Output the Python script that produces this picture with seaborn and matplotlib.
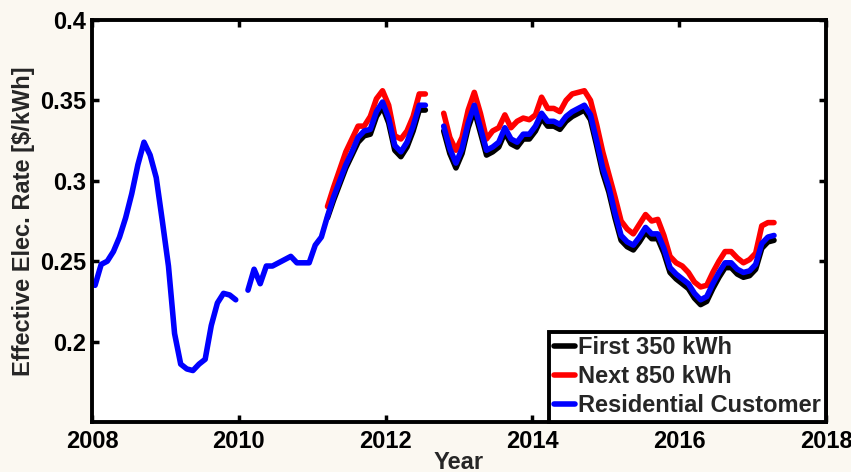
import numpy as np
import pandas as pd
import matplotlib
matplotlib.use("Agg")
import matplotlib.pyplot as plt
import seaborn as sns

# monthly samples: year = 2008 + (month_index + 0.5) / 12
month_index = list(range(112))

residential = [
    0.235, 0.248, 0.250, 0.256, 0.265, 0.277, 0.292, 0.310, 0.324, 0.316,
    0.302, 0.275, 0.247, 0.205, 0.186, 0.183, 0.182, 0.186, 0.189, 0.210,
    0.224, 0.230, 0.229, 0.226, None, 0.232, 0.245, 0.236, 0.247, 0.247,
    0.249, 0.251, 0.253, 0.249, 0.249, 0.249, 0.260, 0.265, 0.278, 0.290,
    0.300, 0.310, 0.318, 0.327, 0.331, 0.332, 0.343, 0.349, 0.339, 0.322,
    0.318, 0.324, 0.334, 0.347, 0.347, None, None, 0.334, 0.320, 0.311,
    0.320, 0.336, 0.347, 0.333, 0.319, 0.321, 0.324, 0.333, 0.326, 0.324,
    0.329, 0.329, 0.334, 0.342, 0.337, 0.337, 0.335, 0.340, 0.343, 0.345,
    0.347, 0.341, 0.325, 0.308, 0.296, 0.280, 0.266, 0.262, 0.260, 0.265,
    0.271, 0.267, 0.267, 0.258, 0.246, 0.242, 0.239, 0.236, 0.230, 0.226,
    0.228, 0.236, 0.243, 0.249, 0.249, 0.245, 0.243, 0.244, 0.248, 0.261,
    0.265, 0.266,
]

next_850 = [None] * 38 + [
    0.284, 0.296, 0.307, 0.318, 0.326, 0.334, 0.334, 0.340, 0.351, 0.356,
    0.347, 0.328, 0.326, 0.331, 0.340, 0.354, 0.354, None, None, 0.342,
    0.327, 0.319, 0.327, 0.344, 0.355, 0.342, 0.326, 0.331, 0.333, 0.341,
    0.333, 0.337, 0.339, 0.338, 0.341, 0.352, 0.345, 0.345, 0.343, 0.350,
    0.354, 0.355, 0.356, 0.350, 0.335, 0.318, 0.304, 0.290, 0.275, 0.270,
    0.267, 0.273, 0.279, 0.275, 0.276, 0.266, 0.253, 0.249, 0.247, 0.243,
    0.237, 0.234, 0.235, 0.243, 0.250, 0.256, 0.256, 0.252, 0.249, 0.251,
    0.255, 0.272, 0.274, 0.274,
]

first_350 = [None] * 38 + [
    0.277, 0.288, 0.298, 0.308, 0.316, 0.324, 0.328, 0.329, 0.340, 0.346,
    0.336, 0.319, 0.315, 0.321, 0.331, 0.344, 0.344, None, None, 0.331,
    0.317, 0.308, 0.317, 0.333, 0.344, 0.330, 0.316, 0.318, 0.321, 0.330,
    0.323, 0.321, 0.326, 0.326, 0.331, 0.339, 0.334, 0.334, 0.332, 0.337,
    0.340, 0.342, 0.344, 0.338, 0.322, 0.305, 0.293, 0.277, 0.263, 0.259,
    0.257, 0.262, 0.268, 0.264, 0.264, 0.255, 0.243, 0.239, 0.236, 0.233,
    0.227, 0.223, 0.225, 0.233, 0.240, 0.246, 0.246, 0.242, 0.240, 0.241,
    0.245, 0.258, 0.262, 0.263,
]

series_names = ["First 350 kWh", "Next 850 kWh", "Residential Customer"]
series_colors = ["#000000", "#ff0000", "#0000ff"]
x_ticks = [2008, 2010, 2012, 2014, 2016, 2018]
y_ticks = [0.2, 0.25, 0.3, 0.35, 0.4]
y_tick_labels = ["0.2", "0.25", "0.3", "0.35", "0.4"]

rows = []
for name, vals in zip(series_names, [first_350, next_850, residential]):
    seg = 0
    prev_none = True
    for m, v in zip(month_index, vals):
        if v is None:
            prev_none = True
            continue
        if prev_none:
            seg += 1
            prev_none = False
        rows.append({"year": 2008 + (m + 0.5) / 12, "rate": v,
                     "series": name, "seg": f"{name}-{seg}"})
df = pd.DataFrame(rows)

sns.set_style("ticks")
plt.rcParams["font.family"] = ["Liberation Sans", "DejaVu Sans"]
plt.rcParams["font.weight"] = "bold"

FS = 17
LW = 4.0

fig = plt.figure(figsize=(8.51, 4.72), dpi=100, facecolor="#fbf8f1")
ax = fig.add_axes([92 / 851, 1 - 422 / 472, (826 - 92) / 851, (422 - 20) / 472])
ax.set_facecolor("white")

sns.lineplot(data=df, x="year", y="rate", hue="series", units="seg",
             estimator=None, hue_order=series_names,
             palette=dict(zip(series_names, series_colors)),
             linewidth=LW, ax=ax, sort=True)

ax.set_xlim(2008, 2018)
ax.set_ylim(0.15, 0.4)
ax.set_xticks(x_ticks)
ax.set_xticklabels([str(t) for t in x_ticks])
ax.set_yticks(y_ticks)
ax.set_yticklabels(y_tick_labels)
ax.tick_params(direction="in", length=5, width=2.5, top=True, right=True,
               labelsize=FS, colors="black")
ax.tick_params(axis="x", pad=6)
ax.tick_params(axis="y", pad=4)
for lbl in ax.get_xticklabels() + ax.get_yticklabels():
    lbl.set_fontweight("bold")
for sp in ax.spines.values():
    sp.set_visible(True)
    sp.set_linewidth(2.8)
    sp.set_color("black")

ax.set_xlabel("Year", fontsize=FS, fontweight="bold", labelpad=-2)
ax.set_ylabel("Effective Elec. Rate [$/kWh]", fontsize=FS, fontweight="bold", labelpad=4)

leg = ax.legend(loc="lower right", borderaxespad=0, fontsize=FS,
                handlelength=0.9, handletextpad=0.15, labelspacing=0.25,
                borderpad=0.2, fancybox=False, framealpha=1,
                edgecolor="black")
leg.get_frame().set_linewidth(2.8)
for t in leg.get_texts():
    t.set_fontweight("bold")
for h in leg.get_lines():
    h.set_linewidth(LW)

fig.savefig("out.png", dpi=100, facecolor=fig.get_facecolor())
